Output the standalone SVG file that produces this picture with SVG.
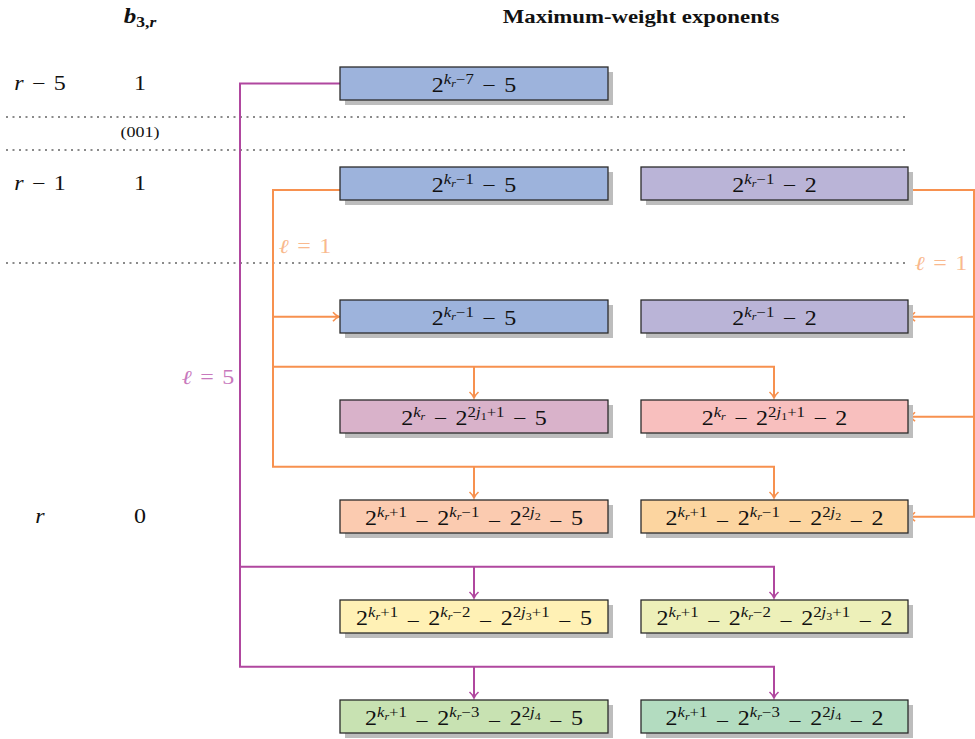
<svg xmlns="http://www.w3.org/2000/svg" width="975" height="739" viewBox="0 0 975 739">
<style>
.m{font-family:"Liberation Serif","DejaVu Serif",serif;font-size:20px;fill:#111;word-spacing:2px}
.s{font-size:14px}
.ss{font-size:10px}
.i{font-style:italic}
.box{stroke:#2b2b2b;stroke-width:1.3}
.sh{fill:#bdbdbd}
.dot{stroke:#8a8a8a;stroke-width:2;stroke-dasharray:2 4.5;fill:none}
.or{stroke:#f7914f;stroke-width:2;fill:none}
.pu{stroke:#b0479f;stroke-width:2;fill:none}
.lab{font-family:"Liberation Serif","DejaVu Serif",serif;font-size:20px;word-spacing:2px}
</style>
<defs>
<marker id="ao" markerUnits="userSpaceOnUse" markerWidth="12" markerHeight="12" viewBox="0 0 12 12" refX="10" refY="6" orient="auto">
<path d="M4,1.5 Q7,5 10,6 Q7,7 4,10.5" fill="none" stroke="#f7914f" stroke-width="1.6"/>
</marker>
<marker id="ap" markerUnits="userSpaceOnUse" markerWidth="12" markerHeight="12" viewBox="0 0 12 12" refX="10" refY="6" orient="auto">
<path d="M4,1.5 Q7,5 10,6 Q7,7 4,10.5" fill="none" stroke="#b0479f" stroke-width="1.6"/>
</marker>
</defs>
<rect width="975" height="739" fill="#fff"/>

<!-- header -->
<text class="m" transform="translate(140 23) scale(1.25 1)" text-anchor="middle" font-weight="bold"><tspan class="i">b</tspan><tspan class="s" dy="4">3,</tspan><tspan class="s i">r</tspan></text>
<text class="m" transform="translate(641 23) scale(1.2 1)" text-anchor="middle" font-weight="bold" style="font-size:19px;word-spacing:0">Maximum-weight exponents</text>

<!-- left labels -->
<text class="m" transform="translate(40 90) scale(1.2 1)" text-anchor="middle"><tspan class="i">r</tspan> − 5</text>
<text class="m" transform="translate(140 90) scale(1.2 1)" text-anchor="middle">1</text>
<text class="m" transform="translate(140 137) scale(1.2 1)" text-anchor="middle" style="font-size:15px">(001)</text>
<text class="m" transform="translate(40 190) scale(1.2 1)" text-anchor="middle"><tspan class="i">r</tspan> − 1</text>
<text class="m" transform="translate(140 190) scale(1.2 1)" text-anchor="middle">1</text>
<text class="m" transform="translate(40 523) scale(1.2 1)" text-anchor="middle"><tspan class="i">r</tspan></text>
<text class="m" transform="translate(140 523) scale(1.2 1)" text-anchor="middle">0</text>

<!-- dotted separators -->
<line class="dot" x1="6" y1="117" x2="907" y2="117"/>
<line class="dot" x1="6" y1="150" x2="907" y2="150"/>
<line class="dot" x1="6" y1="263" x2="907" y2="263"/>

<!-- connectors -->
<g id="connectors">
<path class="pu" d="M340,83.5 H240 V666.7 H774 V698" marker-end="url(#ap)"/>
<path class="pu" d="M240,566.7 H774 V598" marker-end="url(#ap)"/>
<path class="pu" d="M474,566.7 V598" marker-end="url(#ap)"/>
<path class="pu" d="M474,666.7 V698" marker-end="url(#ap)"/>

<path class="or" d="M340,190 H273 V466.7 H774 V498" marker-end="url(#ao)"/>
<path class="or" d="M273,316.7 H339" marker-end="url(#ao)"/>
<path class="or" d="M273,366.7 H774 V398" marker-end="url(#ao)"/>
<path class="or" d="M474,366.7 V398" marker-end="url(#ao)"/>
<path class="or" d="M474,466.7 V498" marker-end="url(#ao)"/>
<path class="or" d="M908,190 H974 V516.7 H909" marker-end="url(#ao)"/>
<path class="or" d="M974,316.7 H909" marker-end="url(#ao)"/>
<path class="or" d="M974,416.7 H909" marker-end="url(#ao)"/>

<text class="lab" transform="translate(305 253) scale(1.2 1)" text-anchor="middle" fill="#f9b98e"><tspan class="i">ℓ</tspan> = 1</text>
<text class="lab" transform="translate(941 270) scale(1.2 1)" text-anchor="middle" fill="#f9b98e"><tspan class="i">ℓ</tspan> = 1</text>
<text class="lab" transform="translate(208 384) scale(1.2 1)" text-anchor="middle" fill="#c879bd"><tspan class="i">ℓ</tspan> = 5</text>
</g>

<!-- nodes -->
<g id="n1">
<rect class="sh" x="345" y="72" width="268" height="33"/>
<rect class="box" x="340" y="67" width="268" height="33" fill="#9db3dc"/>
<text class="m" transform="translate(474 92) scale(1.2 1)" text-anchor="middle">2<tspan class="s i" dy="-8">k</tspan><tspan class="ss i" dy="3">r</tspan><tspan class="s" dy="-3">−7</tspan><tspan dy="8"> − 5</tspan></text>
</g>
<g id="n2l">
<rect class="sh" x="345" y="172" width="268" height="33"/>
<rect class="box" x="340" y="167" width="268" height="33" fill="#9db3dc"/>
<text class="m" transform="translate(474 192) scale(1.2 1)" text-anchor="middle">2<tspan class="s i" dy="-8">k</tspan><tspan class="ss i" dy="3">r</tspan><tspan class="s" dy="-3">−1</tspan><tspan dy="8"> − 5</tspan></text>
</g>
<g id="n2r">
<rect class="sh" x="646" y="172" width="267" height="33"/>
<rect class="box" x="641" y="167" width="267" height="33" fill="#bab4d7"/>
<text class="m" transform="translate(774.5 192) scale(1.2 1)" text-anchor="middle">2<tspan class="s i" dy="-8">k</tspan><tspan class="ss i" dy="3">r</tspan><tspan class="s" dy="-3">−1</tspan><tspan dy="8"> − 2</tspan></text>
</g>
<g id="n3l">
<rect class="sh" x="345" y="305" width="268" height="33"/>
<rect class="box" x="340" y="300" width="268" height="33" fill="#9db3dc"/>
<text class="m" transform="translate(474 325) scale(1.2 1)" text-anchor="middle">2<tspan class="s i" dy="-8">k</tspan><tspan class="ss i" dy="3">r</tspan><tspan class="s" dy="-3">−1</tspan><tspan dy="8"> − 5</tspan></text>
</g>
<g id="n3r">
<rect class="sh" x="646" y="305" width="267" height="33"/>
<rect class="box" x="641" y="300" width="267" height="33" fill="#bab4d7"/>
<text class="m" transform="translate(774.5 325) scale(1.2 1)" text-anchor="middle">2<tspan class="s i" dy="-8">k</tspan><tspan class="ss i" dy="3">r</tspan><tspan class="s" dy="-3">−1</tspan><tspan dy="8"> − 2</tspan></text>
</g>
<g id="n4l">
<rect class="sh" x="345" y="405" width="268" height="33"/>
<rect class="box" x="340" y="400" width="268" height="33" fill="#d9b2ca"/>
<text class="m" transform="translate(474 425) scale(1.2 1)" text-anchor="middle">2<tspan class="s i" dy="-8">k</tspan><tspan class="ss i" dy="3">r</tspan><tspan dy="5"> − 2</tspan><tspan class="s" dy="-8">2</tspan><tspan class="s i">j</tspan><tspan class="ss" dy="3">1</tspan><tspan class="s" dy="-3">+1</tspan><tspan dy="8"> − 5</tspan></text>
</g>
<g id="n4r">
<rect class="sh" x="646" y="405" width="267" height="33"/>
<rect class="box" x="641" y="400" width="267" height="33" fill="#f8bfbe"/>
<text class="m" transform="translate(774.5 425) scale(1.2 1)" text-anchor="middle">2<tspan class="s i" dy="-8">k</tspan><tspan class="ss i" dy="3">r</tspan><tspan dy="5"> − 2</tspan><tspan class="s" dy="-8">2</tspan><tspan class="s i">j</tspan><tspan class="ss" dy="3">1</tspan><tspan class="s" dy="-3">+1</tspan><tspan dy="8"> − 2</tspan></text>
</g>
<g id="n5l">
<rect class="sh" x="345" y="505" width="268" height="33"/>
<rect class="box" x="340" y="500" width="268" height="33" fill="#fbcbb0"/>
<text class="m" transform="translate(474 525) scale(1.2 1)" text-anchor="middle">2<tspan class="s i" dy="-8">k</tspan><tspan class="ss i" dy="3">r</tspan><tspan class="s" dy="-3">+1</tspan><tspan dy="11"> −</tspan><tspan dy="-3"> 2</tspan><tspan class="s i" dy="-8">k</tspan><tspan class="ss i" dy="3">r</tspan><tspan class="s" dy="-3">−1</tspan><tspan dy="11"> −</tspan><tspan dy="-3"> 2</tspan><tspan class="s" dy="-8">2</tspan><tspan class="s i">j</tspan><tspan class="ss" dy="3">2</tspan><tspan dy="8"> −</tspan><tspan dy="-3"> 5</tspan></text>
</g>
<g id="n5r">
<rect class="sh" x="646" y="505" width="267" height="33"/>
<rect class="box" x="641" y="500" width="267" height="33" fill="#fcd5a0"/>
<text class="m" transform="translate(774.5 525) scale(1.2 1)" text-anchor="middle">2<tspan class="s i" dy="-8">k</tspan><tspan class="ss i" dy="3">r</tspan><tspan class="s" dy="-3">+1</tspan><tspan dy="11"> −</tspan><tspan dy="-3"> 2</tspan><tspan class="s i" dy="-8">k</tspan><tspan class="ss i" dy="3">r</tspan><tspan class="s" dy="-3">−1</tspan><tspan dy="11"> −</tspan><tspan dy="-3"> 2</tspan><tspan class="s" dy="-8">2</tspan><tspan class="s i">j</tspan><tspan class="ss" dy="3">2</tspan><tspan dy="8"> −</tspan><tspan dy="-3"> 2</tspan></text>
</g>
<g id="n6l">
<rect class="sh" x="345" y="605" width="268" height="33"/>
<rect class="box" x="340" y="600" width="268" height="33" fill="#fff1b5"/>
<text class="m" transform="translate(474 625) scale(1.2 1)" text-anchor="middle">2<tspan class="s i" dy="-8">k</tspan><tspan class="ss i" dy="3">r</tspan><tspan class="s" dy="-3">+1</tspan><tspan dy="11"> −</tspan><tspan dy="-3"> 2</tspan><tspan class="s i" dy="-8">k</tspan><tspan class="ss i" dy="3">r</tspan><tspan class="s" dy="-3">−2</tspan><tspan dy="11"> −</tspan><tspan dy="-3"> 2</tspan><tspan class="s" dy="-8">2</tspan><tspan class="s i">j</tspan><tspan class="ss" dy="3">3</tspan><tspan class="s" dy="-3">+1</tspan><tspan dy="11"> −</tspan><tspan dy="-3"> 5</tspan></text>
</g>
<g id="n6r">
<rect class="sh" x="646" y="605" width="267" height="33"/>
<rect class="box" x="641" y="600" width="267" height="33" fill="#edf0b9"/>
<text class="m" transform="translate(774.5 625) scale(1.2 1)" text-anchor="middle">2<tspan class="s i" dy="-8">k</tspan><tspan class="ss i" dy="3">r</tspan><tspan class="s" dy="-3">+1</tspan><tspan dy="11"> −</tspan><tspan dy="-3"> 2</tspan><tspan class="s i" dy="-8">k</tspan><tspan class="ss i" dy="3">r</tspan><tspan class="s" dy="-3">−2</tspan><tspan dy="11"> −</tspan><tspan dy="-3"> 2</tspan><tspan class="s" dy="-8">2</tspan><tspan class="s i">j</tspan><tspan class="ss" dy="3">3</tspan><tspan class="s" dy="-3">+1</tspan><tspan dy="11"> −</tspan><tspan dy="-3"> 2</tspan></text>
</g>
<g id="n7l">
<rect class="sh" x="345" y="705" width="268" height="33"/>
<rect class="box" x="340" y="700" width="268" height="33" fill="#c8e2b2"/>
<text class="m" transform="translate(474 725) scale(1.2 1)" text-anchor="middle">2<tspan class="s i" dy="-8">k</tspan><tspan class="ss i" dy="3">r</tspan><tspan class="s" dy="-3">+1</tspan><tspan dy="11"> −</tspan><tspan dy="-3"> 2</tspan><tspan class="s i" dy="-8">k</tspan><tspan class="ss i" dy="3">r</tspan><tspan class="s" dy="-3">−3</tspan><tspan dy="11"> −</tspan><tspan dy="-3"> 2</tspan><tspan class="s" dy="-8">2</tspan><tspan class="s i">j</tspan><tspan class="ss" dy="3">4</tspan><tspan dy="8"> −</tspan><tspan dy="-3"> 5</tspan></text>
</g>
<g id="n7r">
<rect class="sh" x="646" y="705" width="267" height="33"/>
<rect class="box" x="641" y="700" width="267" height="33" fill="#b3dcc0"/>
<text class="m" transform="translate(774.5 725) scale(1.2 1)" text-anchor="middle">2<tspan class="s i" dy="-8">k</tspan><tspan class="ss i" dy="3">r</tspan><tspan class="s" dy="-3">+1</tspan><tspan dy="11"> −</tspan><tspan dy="-3"> 2</tspan><tspan class="s i" dy="-8">k</tspan><tspan class="ss i" dy="3">r</tspan><tspan class="s" dy="-3">−3</tspan><tspan dy="11"> −</tspan><tspan dy="-3"> 2</tspan><tspan class="s" dy="-8">2</tspan><tspan class="s i">j</tspan><tspan class="ss" dy="3">4</tspan><tspan dy="8"> −</tspan><tspan dy="-3"> 2</tspan></text>
</g>
</svg>
